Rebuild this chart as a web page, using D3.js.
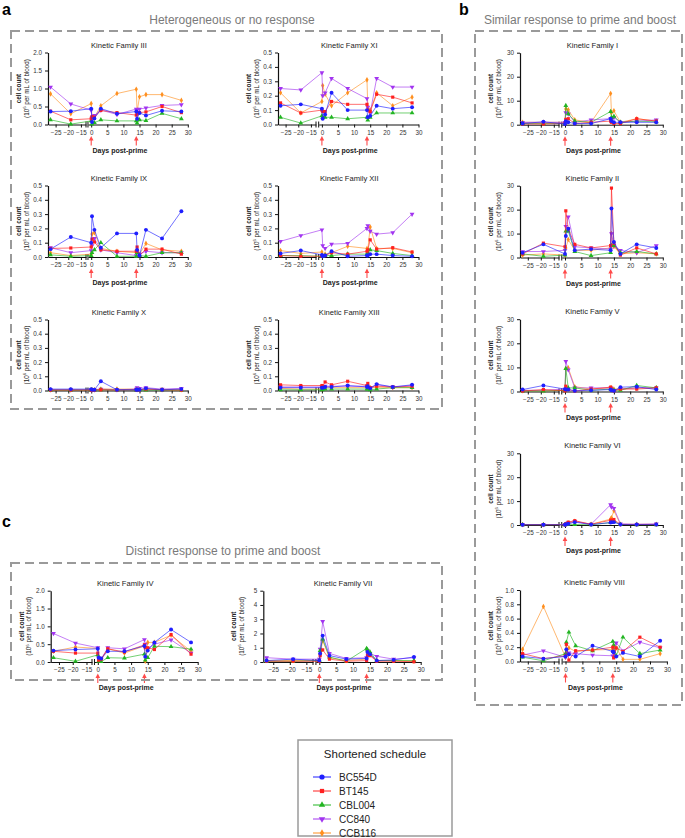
<!DOCTYPE html>
<html><head><meta charset="utf-8">
<script src="https://cdn.jsdelivr.net/npm/d3@7"></script>
<style>body{margin:0;background:#fff} svg{display:block;font-family:"Liberation Sans",Arial,sans-serif}</style>
</head><body><svg id="c" width="685" height="838"></svg>
<script>
// ---------- data ----------
const days = [-27,-19,0,0.25,1,3,8,14,14.25,15,17,22,28];
const schedules = ["BC554D","BT145","CBL004","CC840","CCB116"];
const colors = ["#1f1fff","#ff2020","#22b522","#a234f0","#ff8f1f"];
const xTicksPre = [-25,-20,-15];
const xTicksPost = [0,5,10,15,20,25,30];
const boostDays = [0,14];
// each family: [BC554D, BT145, CBL004, CC840, CCB116]
const famIII = [
 [0.36,0.37,0.44,0.07,0.17,0.44,0.30,0.36,0.16,0.32,0.25,0.38,0.36],
 [0.37,0.13,0.16,0.22,0.20,0.39,0.33,0.26,0.30,0.33,0.35,0.50,0.33],
 [0.13,0.01,0.10,0.01,0.05,0.13,0.10,0.10,0.04,0.13,0.11,0.31,0.16],
 [1.04,0.57,0.40,0.20,0.25,0.40,0.28,0.43,0.40,0.43,0.46,0.53,0.55],
 [0.85,0.30,0.58,0.20,0.20,0.52,0.86,0.98,0.35,0.77,0.83,0.83,0.67]];
const famXI = [
 [0.13,0.14,0.11,0.04,0.07,0.22,0.10,0.10,0.05,0.06,0.13,0.11,0.12],
 [0.15,0.08,0.10,0.09,0.09,0.16,0.14,0.14,0.10,0.09,0.21,0.19,0.15],
 [0.05,0.01,0.06,0.05,0.05,0.05,0.04,0.05,0.03,0.05,0.08,0.08,0.08],
 [0.25,0.24,0.36,0.20,0.22,0.32,0.25,0.18,0.12,0.08,0.32,0.26,0.26],
 [0.22,0.08,0.16,0.27,0.21,0.13,0.22,0.31,0.12,0.10,0.22,0.13,0.19]];
const famIX = [
 [0.055,0.14,0.10,0.285,0.19,0.065,0.165,0.165,0.05,0.01,0.19,0.13,0.32],
 [0.06,0.063,0.07,0.125,0.105,0.05,0.04,0.04,0.07,0.01,0.055,0.055,0.02],
 [0.015,0.005,0.01,0.03,0.05,0.10,0.005,0.005,0.03,0.01,0.005,0.03,0.03],
 [0.065,0.03,0.045,0.08,0.13,0.05,0.03,0.01,0.04,0.02,0.04,0.03,0.03],
 [0.03,0.01,0.02,0.16,0.17,0.06,0.04,0.03,0.05,0.02,0.095,0.05,0.04]];
const famXII = [
 [0.025,0.045,0.015,0.005,0.01,0.04,0.005,0.01,0.01,0.02,0.02,0.01,0.005],
 [0.01,0.005,0.005,0.01,0.01,0.03,0.02,0.04,0.05,0.12,0.055,0.065,0.035],
 [0.01,0.01,0.005,0.005,0.01,0.01,0.02,0.02,0.03,0.05,0.045,0.025,0.01],
 [0.11,0.15,0.19,0.08,0.06,0.09,0.095,0.20,0.22,0.18,0.16,0.17,0.30],
 [0.045,0.025,0.035,0.01,0.02,0.03,0.075,0.06,0.05,0.21,0.06,0.06,0.03]];
const famX = [
 [0.01,0.01,0.01,0.005,0.005,0.065,0.005,0.005,0.005,0.005,0.015,0.005,0.01],
 [0.003,0.003,0.003,0.003,0.003,0.005,0.003,0.005,0.005,0.005,0.01,0.005,0.003],
 [0.002,0.002,0.002,0.002,0.002,0.005,0.003,0.003,0.003,0.003,0.003,0.003,0.003],
 [0.005,0.005,0.005,0.005,0.005,0.01,0.005,0.01,0.02,0.015,0.02,0.01,0.015],
 [0.005,0.005,0.005,0.005,0.005,0.01,0.01,0.01,0.005,0.005,0.01,0.005,0.005]];
const famXIII = [
 [0.02,0.02,0.02,0.02,0.025,0.025,0.035,0.025,0.03,0.015,0.045,0.025,0.04],
 [0.04,0.035,0.035,0.03,0.06,0.04,0.065,0.035,0.05,0.02,0.03,0.025,0.03],
 [0.005,0.005,0.005,0.01,0.01,0.01,0.01,0.01,0.01,0.005,0.01,0.02,0.02],
 [0.025,0.025,0.025,0.025,0.03,0.03,0.03,0.03,0.02,0.02,0.04,0.025,0.035],
 [0.015,0.01,0.01,0.02,0.02,0.02,0.02,0.02,0.02,0.02,0.02,0.02,0.02]];
const famI = [
 [0.5,1.2,0.3,1.5,1,0.5,0.5,2.5,1.5,1,1,1,1],
 [0.3,0.3,0.5,2.2,2.5,0.5,1,1.5,1,0.5,0.5,2.5,1.5],
 [0.5,0.5,0.5,8,4.5,1.5,1,5.5,3,3.5,1,1.5,1.2],
 [1,1,1,5,4.5,1,2,2.5,2,3,1,1.5,2],
 [1,1,1,6.5,6.2,2,1,13,5,5.8,1,2.5,1.5]];
const famII = [
 [2,5.5,1.5,9,12,3,3.5,3,20.5,6.5,1.5,5.5,4],
 [1.5,6,4.5,19.5,12,5.5,4,5,29,6,1,4,1.5],
 [1.5,0.5,1,11,11,2.5,0.8,2,5,5,2,2.5,1.5],
 [2.5,2.5,3,13,17,4.5,4,3.5,10,5,3,2,5],
 [1,1.5,1,4,7.5,3,3,4,10,4.5,1.5,2,1.5]];
const famV = [
 [0.8,2.5,1,0.8,0.8,0.3,0.5,0.8,0.5,0.3,1.8,2,0.8],
 [0.2,0.8,0.3,2.2,0.8,0.2,1,1.8,1,0.3,1,1,1.5],
 [0.2,0.2,0.5,9.5,1.5,1.5,0.5,1,1,0.5,0.5,2.5,1.5],
 [0.5,0.5,1,12.5,9,1.5,1.5,1.5,1,0.5,1,1.5,1.5],
 [0.3,0.3,0.5,9.5,9.8,2,1,1.5,1.5,1,1,1.5,1.5]];
const famVI = [
 [0.1,0.1,0.1,0.3,0.5,1.2,0.2,1,1.2,1.2,0.2,0.2,0.2],
 [0.1,0.1,0.1,0.5,1.2,1.8,0.3,2,2,2.3,0.2,0.2,0.2],
 [0.1,0.1,0.1,0.2,0.3,0.2,0.1,1,1.5,1.5,0.2,0.1,0.1],
 [0.2,0.2,0.2,0.3,1,1.5,0.3,8.5,7.5,7,0.5,0.3,0.5],
 [0.2,0.2,0.2,0.3,0.8,1.5,0.3,2.5,3,6,0.3,0.3,0.3]];
const famVIII = [
 [0.07,0.04,0.07,0.17,0.10,0.07,0.22,0.14,0.13,0.07,0.12,0.07,0.29],
 [0.11,0.04,0.08,0.24,0.02,0.15,0.16,0.20,0.05,0.19,0.14,0.34,0.20],
 [0.06,0.01,0.11,0.27,0.41,0.22,0.15,0.28,0.23,0.08,0.34,0.11,0.16],
 [0.09,0.15,0.06,0.10,0.12,0.11,0.09,0.08,0.14,0.26,0.15,0.27,0.19],
 [0.17,0.77,0.06,0.12,0.19,0.14,0.16,0.17,0.22,0.19,0.03,0.03,0.11]];
const famIV = [
 [0.32,0.35,0.37,0.12,0.10,0.30,0.30,0.45,0.15,0.32,0.55,0.91,0.55],
 [0.30,0.25,0.25,0.05,0.08,0.37,0.28,0.48,0.40,0.40,0.35,0.77,0.22],
 [0.12,0.02,0.20,0.02,0.01,0.12,0.11,0.22,0.05,0.12,0.44,0.43,0.36],
 [0.80,0.53,0.40,0.12,0.08,0.40,0.37,0.63,0.50,0.38,0.50,0.62,0.25],
 [0.30,0.42,0.38,0.10,0.05,0.37,0.25,0.45,0.02,0.55,0.55,0.75,0.30]];
const famVII = [
 [0.1,0.2,0.1,0.6,1.85,0.45,0.2,0.25,0.7,0.55,0.1,0.15,0.35],
 [0.05,0.05,0.05,0.45,0.85,0.2,0.05,0.1,0.45,0.45,0.05,0.05,0.02],
 [0.05,0.05,0.1,0.8,1.6,0.35,0.05,0.95,0.85,0.7,0.1,0.1,0.1],
 [0.3,0.2,0.2,0.9,2.85,0.6,0.25,0.3,0.8,0.6,0.4,0.2,0.3],
 [0.1,0.1,0.1,0.5,1.5,0.3,0.1,0.2,0.6,0.5,0.1,0.1,0.05]];

// ---------- layout ----------
const svg = d3.select("#c");
const panels = [
 {t:"Kinetic Family III", d:famIII, ymax:2, step:0.5, ax:48, s1e:86, x0:91.2, k:3.22, top:52.5, bot:124.5, arrows:true},
 {t:"Kinetic Family XI", d:famXI, ymax:0.5, step:0.1, ax:278, s1e:316, x0:321.9, k:3.22, top:52.5, bot:124.5, arrows:true},
 {t:"Kinetic Family IX", d:famIX, ymax:0.5, step:0.1, ax:48, s1e:86, x0:91.2, k:3.22, top:185.5, bot:257, arrows:true},
 {t:"Kinetic Family XII", d:famXII, ymax:0.5, step:0.1, ax:278, s1e:316, x0:321.9, k:3.22, top:185.5, bot:257, arrows:true},
 {t:"Kinetic Family X", d:famX, ymax:0.5, step:0.1, ax:48, s1e:86, x0:91.2, k:3.22, top:319.5, bot:390.5, arrows:false},
 {t:"Kinetic Family XIII", d:famXIII, ymax:0.5, step:0.1, ax:278, s1e:316, x0:321.9, k:3.22, top:319.5, bot:390.5, arrows:false},
 {t:"Kinetic Family I", d:famI, ymax:30, step:10, ax:520, s1e:559, x0:565, k:3.26, top:52.7, bot:124.7, arrows:true},
 {t:"Kinetic Family II", d:famII, ymax:30, step:10, ax:520, s1e:559, x0:565, k:3.26, top:185.7, bot:257.5, arrows:true},
 {t:"Kinetic Family V", d:famV, ymax:30, step:10, ax:520, s1e:559, x0:565, k:3.26, top:319.2, bot:391.5, arrows:true},
 {t:"Kinetic Family VI", d:famVI, ymax:30, step:10, ax:520, s1e:559, x0:565, k:3.26, top:453.3, bot:525, arrows:true},
 {t:"Kinetic Family VIII", d:famVIII, ymax:1, step:0.2, ax:520, s1e:559, x0:565.5, k:3.38, top:590, bot:661.5, arrows:true, unit:"3"},
 {t:"Kinetic Family IV", d:famIV, ymax:2, step:0.5, ax:50.7, s1e:92, x0:97.8, k:3.33, top:590.7, bot:662, arrows:true},
 {t:"Kinetic Family VII", d:famVII, ymax:5, step:1, ax:263.3, s1e:313, x0:319.3, k:3.38, top:590.7, bot:662, arrows:true}
];

const symTypes = [d3.symbolCircle, d3.symbolSquare, d3.symbolTriangle, d3.symbolTriangle, d3.symbolDiamond];
const symSizes = [12, 10, 10, 10, 9];
const symRot = [0,0,0,180,0];

function drawPanel(p){
  const g = svg.append("g");
  const y = d3.scaleLinear().domain([0,p.ymax]).range([p.bot,p.top]);
  const s1 = d3.scaleLinear().domain([-28,-13]).range([p.ax,p.s1e]);
  const s2 = d3.scaleLinear().domain([-1,30]).range([p.x0-p.k, p.x0+30*p.k]);
  const xm = d => d <= -13 ? s1(d) : s2(d);
  const right = p.x0+30*p.k;
  const fmt = p.step >= 1 ? d3.format("d") : d3.format(".1f");
  const ya = g.append("g").attr("transform",`translate(${p.ax},0)`)
    .call(d3.axisLeft(y).tickValues(d3.range(0,p.ymax+1e-9,p.step)).tickFormat(fmt).tickSize(3).tickSizeOuter(0));
  const xa1 = g.append("g").attr("transform",`translate(0,${p.bot})`)
    .call(d3.axisBottom(s1).tickValues(xTicksPre).tickSize(3).tickSizeOuter(0));
  const xa2 = g.append("g").attr("transform",`translate(0,${p.bot})`)
    .call(d3.axisBottom(s2).tickValues(xTicksPost).tickSize(3).tickSizeOuter(0));
  [ya,xa1,xa2].forEach(a=>{
    a.selectAll("path,line").attr("stroke","#111").attr("stroke-width",1);
    a.selectAll("text").attr("font-size",6.3).attr("fill","#333").attr("font-family","Liberation Sans, Arial, sans-serif");
  });
  ya.select(".domain").attr("stroke-width",1.2);
  [p.s1e, p.x0-p.k].forEach(bx=>{
    g.append("line").attr("x1",bx).attr("x2",bx).attr("y1",p.bot-3).attr("y2",p.bot+3)
      .attr("stroke","#111").attr("stroke-width",1);
  });
  g.append("text").attr("x",(p.ax+right)/2+1).attr("y",p.top-5)
    .attr("text-anchor","middle").attr("font-size",7.6).attr("fill","#222").text(p.t);
  const cy = (p.top+p.bot)/2;
  g.append("text").attr("transform",`translate(${p.ax-27},${cy}) rotate(-90)`)
    .attr("text-anchor","middle").attr("font-size",6.3).attr("font-weight","bold").attr("fill","#222").text("cell count");
  const l2 = g.append("text").attr("transform",`translate(${p.ax-19.5},${cy}) rotate(-90)`)
    .attr("text-anchor","middle").attr("font-size",6.3).attr("fill","#222");
  l2.append("tspan").text("(10");
  l2.append("tspan").attr("font-size",4.3).attr("dy",-2.5).text(p.unit||"6");
  l2.append("tspan").attr("dy",2.5).text(" per mL of blood)");
  for(let si=schedules.length-1; si>=0; si--){
    const pts = days.map((dd,i)=>({day:dd, v:p.d[si][i]}));
    g.append("path").datum(pts).attr("fill","none").attr("stroke",colors[si]).attr("stroke-width",0.75)
      .attr("stroke-opacity",0.85)
      .attr("d", d3.line().x(d=>xm(d.day)).y(d=>y(d.v)));
    g.selectAll(null).data(pts).enter().append("path")
      .attr("transform",d=>`translate(${xm(d.day)},${y(d.v)}) rotate(${symRot[si]})`)
      .attr("d", d3.symbol().type(symTypes[si]).size(symSizes[si])())
      .attr("fill",colors[si]);
  }
  if(p.arrows){
    boostDays.forEach(bd=>{
      const ax = s2(bd);
      g.append("line").attr("x1",ax).attr("x2",ax).attr("y1",p.bot+15).attr("y2",p.bot+21)
        .attr("stroke","#ff4a4a").attr("stroke-width",1.1);
      g.append("path").attr("d",`M${ax-2.3},${p.bot+16} L${ax},${p.bot+11.5} L${ax+2.3},${p.bot+16} Z`).attr("fill","#ff4a4a");
    });
    g.append("text").attr("x",(p.ax+right)/2+2).attr("y",p.bot+28)
      .attr("text-anchor","middle").attr("font-size",7).attr("font-weight","bold").attr("fill","#222").text("Days post-prime");
  }
}
panels.forEach(drawPanel);

// ---------- group boxes ----------
function box(x,y,w,h){
  svg.append("rect").attr("x",x).attr("y",y).attr("width",w).attr("height",h)
    .attr("fill","none").attr("stroke","#9a9a9a").attr("stroke-width",2).attr("stroke-dasharray","9,5");
}
box(11,31,431,378);
box(475,31,207,674);
box(11,563,431,117);
function heading(x,y,t){ svg.append("text").attr("x",x).attr("y",y).attr("text-anchor","middle")
  .attr("font-size",12).attr("fill","#7a7a7a").text(t); }
heading(232,24,"Heterogeneous or no response");
heading(580,24,"Similar response to prime and boost");
heading(223,555,"Distinct response to prime and boost");
function plabel(x,y,t){ svg.append("text").attr("x",x).attr("y",y).attr("font-size",16).attr("font-weight","bold").attr("fill","#000").text(t); }
plabel(2,15,"a"); plabel(459,15,"b"); plabel(2,527,"c");

// ---------- legend ----------
svg.append("rect").attr("x",298).attr("y",740).attr("width",154).attr("height",96)
  .attr("fill","none").attr("stroke","#9a9a9a").attr("stroke-width",1.5);
svg.append("text").attr("x",375).attr("y",758).attr("text-anchor","middle").attr("font-size",11.5).attr("fill","#222").text("Shortened schedule");
schedules.forEach((s,i)=>{
  const yy = 777 + i*14;
  svg.append("line").attr("x1",313).attr("x2",331).attr("y1",yy).attr("y2",yy).attr("stroke",colors[i]).attr("stroke-width",1);
  svg.append("path").attr("transform",`translate(322,${yy}) rotate(${symRot[i]})`)
    .attr("d",d3.symbol().type(symTypes[i]).size(symSizes[i]*1.8)()).attr("fill",colors[i]);
  svg.append("text").attr("x",339).attr("y",yy+3.5).attr("font-size",10).attr("fill","#222").text(s);
});
</script></body></html>
